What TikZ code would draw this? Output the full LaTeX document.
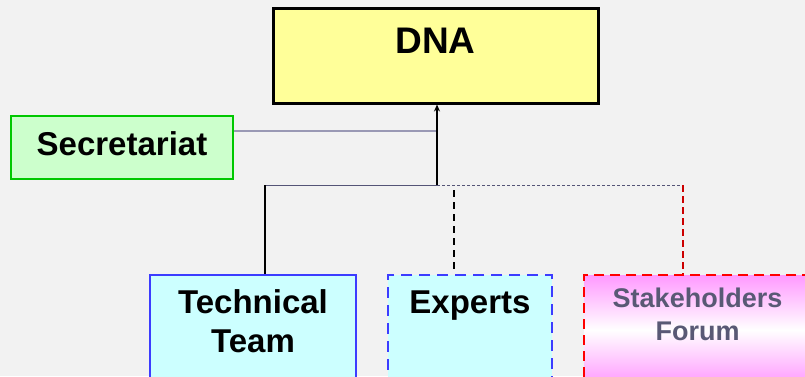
\documentclass[tikz,border=0pt]{standalone}
\usepackage{fontspec}
\setmainfont{Liberation Sans}
\usetikzlibrary{arrows.meta}
\definecolor{bg}{HTML}{F2F2F2}
\definecolor{dnafill}{HTML}{FFFF99}
\definecolor{secfill}{HTML}{CCFFCC}
\definecolor{secline}{HTML}{00C800}
\definecolor{cyanfill}{HTML}{CCFFFF}
\definecolor{blueline}{HTML}{3C3CFF}
\definecolor{pinkfill}{HTML}{FF99FF}
\definecolor{redline}{HTML}{FF0000}
\definecolor{darkred}{HTML}{CC0000}
\definecolor{greyblue}{HTML}{555577}
\definecolor{lavender}{HTML}{9A99B5}
\definecolor{slatetext}{HTML}{595975}
\tikzset{
  box/.style={rectangle, inner sep=0pt},
  lbl/.style={anchor=base, inner sep=0pt, font=\bfseries\fontsize{33}{39}\selectfont, align=center},
}
\begin{document}
\begin{tikzpicture}[x=1pt, y=-1pt]
\clip (0,0) rectangle (805,376);
\fill[bg] (0,0) rectangle (805,376);
\useasboundingbox (0,0) rectangle (805,376);

% boxes
\node[box, draw=black, line width=3pt, fill=dnafill, minimum width=325pt, minimum height=95pt] (dna) at (435.5,55.5) {};
\node[box, draw=secline, line width=2.5pt, fill=secfill, minimum width=222pt, minimum height=63pt] (sec) at (122,147.5) {};
\node[box, draw=blueline, line width=2.2pt, fill=cyanfill, minimum width=206pt, minimum height=110pt] (tech) at (253,330) {};
\node[box, draw=blueline, line width=2.8pt, dash pattern=on 11pt off 7pt, fill=cyanfill, minimum width=164pt, minimum height=110pt] (exp) at (470,330) {};
\node[box, draw=redline, line width=2.8pt, dash pattern=on 10pt off 6pt, top color=pinkfill, bottom color=pinkfill, middle color=white, minimum width=227pt, minimum height=110pt] (stk) at (697.5,330) {};

% texts
\node[lbl, font=\bfseries\fontsize{37}{44}\selectfont] (dnat) at (435.5,53) {DNA};
\node[lbl] (sect) at (122,155) {Secretariat};
\node[lbl] (techt) at (253,352) {Technical\\Team};
\node[lbl] (expt) at (470,313) {Experts};
\node[lbl, text=slatetext, font=\bfseries\fontsize{27}{33}\selectfont] (stkt) at (697.5,340) {Stakeholders\\Forum};

% junction coordinates
\coordinate (j) at (437,185);
\coordinate (jt) at (265,185);
\coordinate (js) at (683,185);
\coordinate (je) at (454,190);

% connectors
\draw[lavender, line width=1.5pt] (sec.east |- 0,131) -- (437,131);
\draw[greyblue, line width=1pt] (jt) -- (j);
\draw[greyblue, line width=1pt, dash pattern=on 3pt off 2pt] (j) -- (js);
\draw[black, line width=1.5pt, -{Stealth[length=7pt,width=6pt]}] (j) -- (j |- dna.south);
\draw[black, line width=1.5pt] (jt) -- (jt |- tech.north);
\draw[black, line width=2.2pt, dash pattern=on 7pt off 5pt] (je) -- (454,270);
\draw[darkred, line width=1.5pt, dash pattern=on 7pt off 4pt] (js) -- (js |- stk.north);
\end{tikzpicture}
\end{document}
